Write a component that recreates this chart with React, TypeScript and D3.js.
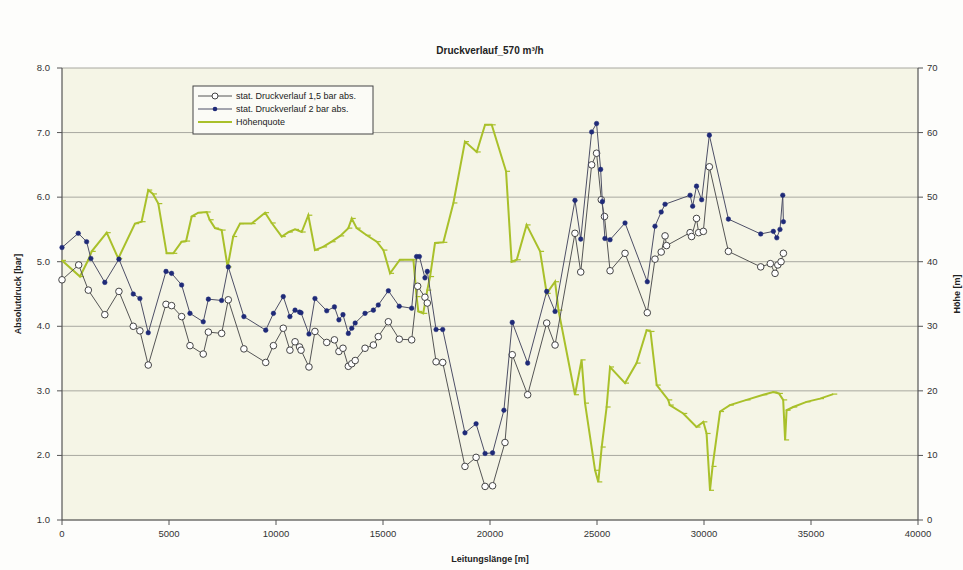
import React from "react";
import * as d3 from "d3";

const title = "Druckverlauf_570 m³/h";
const xTicks = [0, 5000, 10000, 15000, 20000, 25000, 30000, 35000, 40000];
const yLeftTicks = [1, 2, 3, 4, 5, 6, 7, 8];
const yRightTicks = [0, 10, 20, 30, 40, 50, 60, 70];
const seriesNames = ["stat. Druckverlauf 1,5 bar abs.", "stat. Druckverlauf 2 bar abs.", "Höhenquote"];

const s15X = [0,780,1230,2000,2660,3330,3640,4030,4860,5120,5590,5980,6600,6840,7460,7770,8500,9520,9880,10340,10650,10890,11100,11170,11540,11820,12370,12730,12940,13130,13380,13540,13700,14160,14550,14780,15250,15760,16340,16620,16960,17070,17480,17790,18830,19350,19770,20120,20700,21040,21760,22650,23040,23970,24240,24750,24980,25200,25350,25610,26310,27350,27710,28000,28180,28250,29350,29420,29650,29750,29970,30250,31140,32650,33100,33320,33450,33600,33710];
const s15Y = [4.72,4.95,4.56,4.18,4.54,4.00,3.93,3.40,4.34,4.32,4.15,3.70,3.57,3.91,3.89,4.41,3.65,3.44,3.70,3.97,3.63,3.76,3.68,3.63,3.37,3.92,3.75,3.79,3.61,3.66,3.38,3.42,3.47,3.66,3.71,3.84,4.07,3.80,3.79,4.62,4.45,4.36,3.45,3.44,1.83,1.97,1.52,1.53,2.20,3.56,2.94,4.05,3.71,5.44,4.84,6.50,6.68,5.96,5.70,4.86,5.13,4.21,5.04,5.15,5.40,5.25,5.45,5.39,5.67,5.45,5.47,6.47,5.16,4.92,4.97,4.82,4.95,5.00,5.13];

const s2X = [0,760,1150,1350,2000,2660,3330,3640,4030,4860,5120,5590,5980,6600,6840,7460,7770,8500,9520,9880,10340,10650,10890,11100,11170,11540,11820,12370,12730,12940,13130,13380,13540,13700,14160,14550,14780,15250,15760,16340,16570,16700,16960,17070,17480,17790,18830,19350,19770,20120,20650,21040,21760,22650,23040,23970,24240,24750,24980,25170,25250,25370,25610,26310,27350,27710,28000,28180,29350,29470,29650,29890,30250,31140,32650,33240,33400,33550,33680,33710];
const s2Y = [5.22,5.44,5.31,5.05,4.68,5.04,4.50,4.43,3.90,4.85,4.82,4.64,4.20,4.07,4.42,4.40,4.92,4.15,3.94,4.20,4.46,4.15,4.25,4.22,4.21,3.88,4.43,4.24,4.30,4.10,4.18,3.89,3.97,4.05,4.20,4.25,4.33,4.55,4.31,4.28,5.08,5.08,4.75,4.85,3.95,3.95,2.35,2.49,2.03,2.04,2.70,4.06,3.43,4.54,4.23,5.95,5.35,7.01,7.14,6.43,5.93,5.36,5.34,5.60,4.69,5.55,5.77,5.89,6.03,5.86,6.17,5.96,6.96,5.66,5.43,5.47,5.37,5.50,6.03,5.62];

const hX = [0,840,1230,1390,2090,2630,3410,3720,4030,4250,4500,4890,5200,5590,5800,6060,6370,6760,6900,7150,7460,7740,8000,8320,8860,9490,9800,10270,10600,10890,11200,11510,11820,12200,12600,13000,13380,13540,13770,14240,14710,15020,15330,15790,16420,16570,16650,16880,17070,17200,17430,17820,18290,18830,19380,19770,20080,20750,21010,21250,21710,22340,22650,23040,23200,23970,24280,24440,24910,25060,25220,25450,25610,26310,26850,27320,27500,27790,28330,28400,29030,29650,29970,30120,30280,30400,30750,31210,31990,32770,33240,33500,33700,33790,33860,34170,34790,35420,36040];
const hY = [40.2,37.7,40.3,41.6,44.5,40.5,45.9,46.2,51.1,50.5,49.0,41.3,41.3,43.1,43.2,47.0,47.6,47.7,46.5,45.2,44.9,39.2,43.9,45.9,45.9,47.6,46.0,43.9,44.6,45.0,44.6,47.2,41.8,42.3,43.1,44.0,45.2,46.7,45.2,44.1,43.1,41.8,38.2,40.3,40.3,34.6,32.3,32.0,35.6,37.7,42.9,43.0,49.1,58.6,57.0,61.2,61.2,54.0,40.0,40.3,45.7,41.6,35.1,36.9,32.5,19.4,24.8,18.1,7.7,5.9,11.3,17.5,23.7,21.2,24.3,29.4,29.2,20.9,18.6,17.8,16.5,14.4,15.2,13.4,4.6,8.3,16.8,17.8,18.6,19.4,19.8,19.6,18.6,12.4,17.0,17.5,18.3,18.8,19.5];

const W = 963, H = 570;
const L = 62, R = 918, T = 68, B = 520;
const FONT = "'Liberation Sans', Arial, sans-serif";
const GREEN = "#a9c02a";
const NAVY = "#1f2a78";

export default function App() {
  const x = d3.scaleLinear().domain([0, 40000]).range([L, R]);
  const yL = d3.scaleLinear().domain([1, 8]).range([B, T]);
  const yR = d3.scaleLinear().domain([0, 70]).range([B, T]);

  const s15 = s15X.map((v, i) => [v, s15Y[i]] as [number, number]);
  const s2 = s2X.map((v, i) => [v, s2Y[i]] as [number, number]);
  const h = hX.map((v, i) => [v, hY[i]] as [number, number]);

  const lineL = d3.line<[number, number]>().x(d => x(d[0])).y(d => yL(d[1]));
  const lineR = d3.line<[number, number]>().x(d => x(d[0])).y(d => yR(d[1]));

  return (
    <svg width={W} height={H} style={{ position: "fixed", left: 0, top: 0, background: "#fdfdfb" }} fontFamily={FONT}>
      <rect x={0} y={0} width={W} height={H} fill="#fdfdfb" />
      <rect x={L} y={T} width={R - L} height={B - T} fill="#f5f5e6" />
      {yLeftTicks.map(t => (
        <line key={"g" + t} x1={L} x2={R} y1={yL(t)} y2={yL(t)} stroke="#a8a8a0" strokeWidth={1} />
      ))}
      <line x1={L} x2={L} y1={T} y2={B} stroke="#555" strokeWidth={1.2} />
      <line x1={R} x2={R} y1={T} y2={B} stroke="#555" strokeWidth={1.2} />
      <line x1={L} x2={R} y1={B} y2={B} stroke="#555" strokeWidth={1.2} />
      {yLeftTicks.map(t => (
        <g key={"l" + t}>
          <line x1={L - 5} x2={L} y1={yL(t)} y2={yL(t)} stroke="#555" />
          <text x={L - 12} y={yL(t) + 3} fontSize={9.5} textAnchor="end" fill="#333">{t.toFixed(1)}</text>
        </g>
      ))}
      {yRightTicks.map(t => (
        <g key={"r" + t}>
          <line x1={R} x2={R + 5} y1={yR(t)} y2={yR(t)} stroke="#555" />
          <text x={R + 9} y={yR(t) + 3} fontSize={9.5} textAnchor="start" fill="#333">{t}</text>
        </g>
      ))}
      {xTicks.map(t => (
        <g key={"x" + t}>
          <line x1={x(t)} x2={x(t)} y1={B} y2={B + 5} stroke="#555" />
          <text x={x(t)} y={B + 17} fontSize={9.5} textAnchor="middle" fill="#333">{t}</text>
        </g>
      ))}
      <text x={490} y={54} fontSize={10} fontWeight="bold" textAnchor="middle" fill="#222">{title}</text>
      <text x={490} y={562} fontSize={9} fontWeight="bold" textAnchor="middle" fill="#222">Leitungslänge [m]</text>
      <text transform={`translate(21,${(T + B) / 2}) rotate(-90)`} fontSize={9} fontWeight="bold" textAnchor="middle" fill="#222">Absolutdruck [bar]</text>
      <text transform={`translate(960,${(T + B) / 2}) rotate(-90)`} fontSize={9} fontWeight="bold" textAnchor="middle" fill="#222">Höhe [m]</text>

      <path d={lineR(h) || ""} fill="none" stroke={GREEN} strokeWidth={2} />
      {h.map((d, i) => (
        <line key={"hm" + i} x1={x(d[0]) - 1} x2={x(d[0]) + 4} y1={yR(d[1])} y2={yR(d[1])} stroke={GREEN} strokeWidth={1.2} />
      ))}
      <path d={lineL(s15) || ""} fill="none" stroke="#555" strokeWidth={1} />
      {s15.map((d, i) => (
        <circle key={"a" + i} cx={x(d[0])} cy={yL(d[1])} r={3.3} fill="#fff" stroke="#444" strokeWidth={1} />
      ))}
      <path d={lineL(s2) || ""} fill="none" stroke="#4d4f66" strokeWidth={1} />
      {s2.map((d, i) => (
        <circle key={"b" + i} cx={x(d[0])} cy={yL(d[1])} r={2.3} fill={NAVY} stroke={NAVY} strokeWidth={0.5} />
      ))}

      <rect x={193} y={86} width={180} height={48} fill="#fbfbf6" stroke="#444" strokeWidth={1} />
      <line x1={198} x2={232} y1={96} y2={96} stroke="#555" />
      <circle cx={215} cy={96} r={3} fill="#fff" stroke="#444" />
      <text x={236} y={99} fontSize={9} fill="#222">{seriesNames[0]}</text>
      <line x1={198} x2={232} y1={109} y2={109} stroke="#4d4f66" />
      <circle cx={215} cy={109} r={2.3} fill={NAVY} />
      <text x={236} y={112} fontSize={9} fill="#222">{seriesNames[1]}</text>
      <line x1={198} x2={232} y1={122} y2={122} stroke={GREEN} strokeWidth={2} />
      <text x={236} y={125} fontSize={9} fill="#222">{seriesNames[2]}</text>
    </svg>
  );
}
